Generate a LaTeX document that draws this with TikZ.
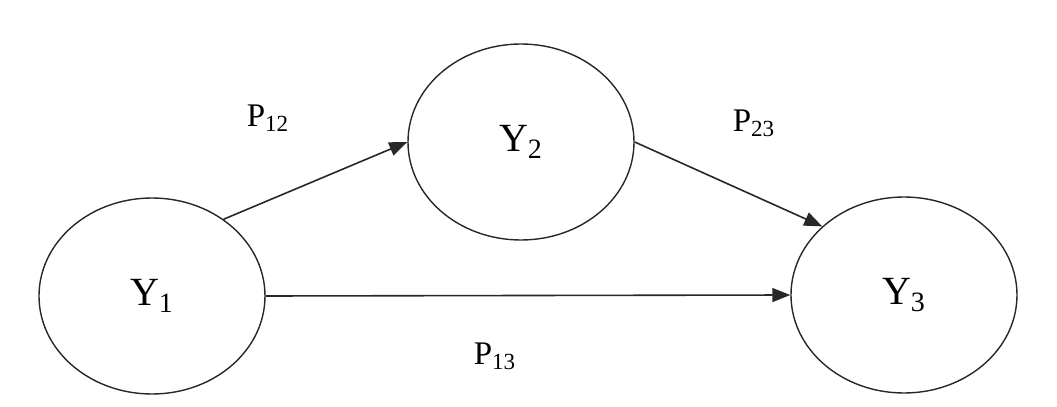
\documentclass[tikz,border=0pt]{standalone}
\usepackage{fontspec}
\setmainfont{Liberation Serif}
\usepackage{tikz}
\usetikzlibrary{arrows.meta,positioning,shapes.geometric}
\definecolor{inkgray}{RGB}{40,40,40}

\begin{document}
\begin{tikzpicture}[x=0.5pt,y=-0.5pt,
    varnode/.style={draw=inkgray,ellipse,line width=0.7pt,inner sep=0pt,
      minimum width=113pt,minimum height=98pt,font=\fontsize{20}{22}\selectfont},
    pathlabel/.style={font=\fontsize{16.5}{18}\selectfont,inner sep=0pt},
    effect/.style={draw=inkgray,line width=0.8pt,-{Triangle[length=9pt,width=7pt]}}]
  \useasboundingbox (0,0) rectangle (1057,407);
  % variables
  \node[varnode] (Y1) at (152,296) {Y\textsubscript{1}};
  \node[varnode] (Y2) at (521,142) {Y\textsubscript{2}};
  \node[varnode] (Y3) at (904,295) {Y\textsubscript{3}};
  % paths
  \draw[effect] (Y1.47) -- (Y2.west);
  \draw[effect] (Y2.east) -- (Y3.140);
  \draw[effect] (Y1.east) -- (Y3.west);
  % coefficients
  \node[pathlabel] (p12) at (268,118) {P\textsubscript{12}};
  \node[pathlabel] (p23) at (754,123) {P\textsubscript{23}};
  \node[pathlabel] (p13) at (495,356) {P\textsubscript{13}};
\end{tikzpicture}
\end{document}
